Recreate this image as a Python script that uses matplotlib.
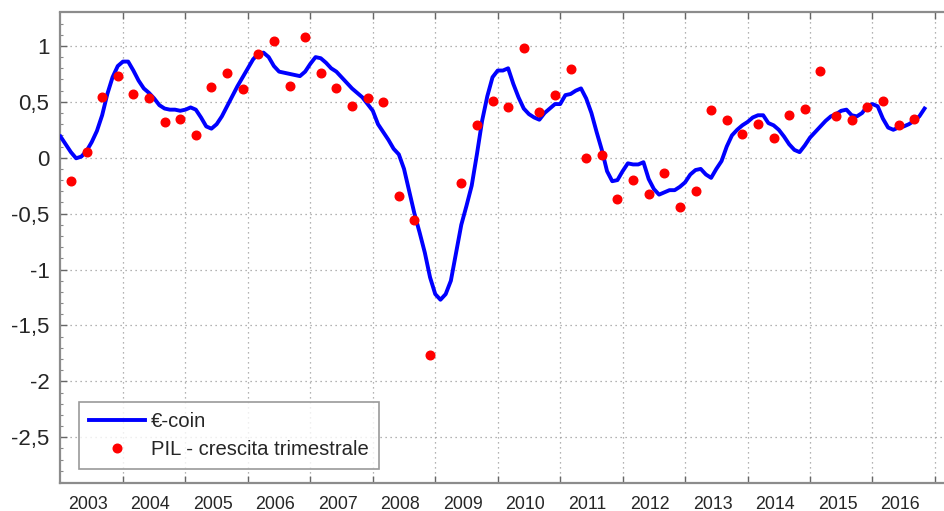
import numpy as np
import matplotlib
matplotlib.use("Agg")
import matplotlib.pyplot as plt
from matplotlib.ticker import FixedLocator, MultipleLocator, FuncFormatter, NullFormatter

plt.rcParams['font.family'] = ['Liberation Sans', 'DejaVu Sans']

# ---- data ----
start_year = 2003
# monthly €-coin values, Jan 2003 .. Nov 2016
ecoin = [
    0.19, 0.12, 0.05, -0.005, 0.01, 0.06, 0.14, 0.24, 0.38, 0.57, 0.72, 0.82,      # 2003
    0.86, 0.86, 0.78, 0.69, 0.62, 0.58, 0.53, 0.47, 0.44, 0.43, 0.43, 0.42,        # 2004
    0.43, 0.45, 0.43, 0.36, 0.28, 0.26, 0.30, 0.37, 0.46, 0.55, 0.64, 0.72,        # 2005
    0.80, 0.88, 0.93, 0.94, 0.90, 0.82, 0.77, 0.76, 0.75, 0.74, 0.73, 0.77,        # 2006
    0.84, 0.90, 0.89, 0.85, 0.80, 0.77, 0.72, 0.67, 0.62, 0.58, 0.54, 0.48,        # 2007
    0.42, 0.30, 0.23, 0.16, 0.08, 0.03, -0.10, -0.30, -0.50, -0.67, -0.85, -1.07,  # 2008
    -1.22, -1.27, -1.22, -1.10, -0.85, -0.60, -0.43, -0.25, 0.03, 0.33, 0.55, 0.72,  # 2009
    0.78, 0.78, 0.80, 0.66, 0.54, 0.44, 0.39, 0.36, 0.34, 0.40, 0.44, 0.48,        # 2010
    0.48, 0.56, 0.57, 0.60, 0.62, 0.53, 0.40, 0.23, 0.07, -0.12, -0.21, -0.20,     # 2011
    -0.12, -0.05, -0.06, -0.06, -0.04, -0.19, -0.28, -0.33, -0.31, -0.29, -0.29, -0.26,  # 2012
    -0.22, -0.15, -0.11, -0.10, -0.15, -0.18, -0.10, -0.03, 0.10, 0.20, 0.25, 0.29,  # 2013
    0.32, 0.36, 0.38, 0.38, 0.31, 0.29, 0.25, 0.19, 0.12, 0.07, 0.05, 0.11,        # 2014
    0.18, 0.23, 0.28, 0.33, 0.37, 0.39, 0.42, 0.43, 0.38, 0.37, 0.40, 0.46,        # 2015
    0.48, 0.46, 0.35, 0.27, 0.25, 0.27, 0.28, 0.30, 0.33, 0.37, 0.44,              # 2016
]
# quarterly GDP growth (PIL), 2003Q1 .. 2016Q3 (2009Q1 falls below the visible range)
pil = [
    -0.21, 0.05, 0.54, 0.73,
    0.57, 0.53, 0.32, 0.35,
    0.20, 0.63, 0.755, 0.615,
    0.925, 1.04, 0.645, 1.08,
    0.755, 0.625, 0.46, 0.535,
    0.50, -0.34, -0.56, -1.76,
    np.nan, -0.23, 0.29, 0.51,
    0.45, 0.98, 0.41, 0.56,
    0.79, 0.00, 0.02, -0.37,
    -0.20, -0.32, -0.14, -0.44,
    -0.30, 0.43, 0.34, 0.21,
    0.30, 0.18, 0.38, 0.44,
    0.78, 0.37, 0.34, 0.45,
    0.51, 0.29, 0.35,
]
year_labels = [str(y) for y in range(2003, 2017)]
ytick_vals = [-2.5, -2, -1.5, -1, -0.5, 0, 0.5, 1]

# time axes (fractional years); quarterly values sit on the last month of each quarter
t_month = start_year + np.arange(len(ecoin)) / 12.0
t_quarter = start_year + (np.arange(len(pil)) * 3 + 2) / 12.0

W, H = 944, 511
fig = plt.figure(figsize=(W / 100, H / 100), dpi=100)
ax_left = 60.5 / W
ax_bottom = (H - 483.3) / H
ax_top = (H - 12.5) / H
xmin, xmax = 2003.0, 2017.3
px_per_year = 62.46
ax_width = (xmax - xmin) * px_per_year / W
ax = fig.add_axes([ax_left, ax_bottom, ax_width, ax_top - ax_bottom])

ax.plot(t_month, ecoin, color='#0000ff', lw=2.8, label='€-coin', zorder=3)
ax.plot(t_quarter, pil, 'o', color='#ff0000', ms=6.2, mec='#ff0000', label='PIL - crescita trimestrale', zorder=4)

ax.set_xlim(xmin, xmax)
ax.set_ylim(-2.912, 1.299)

# x: major ticks at year starts (grid), labels at mid-year
years = np.arange(2004, 2018)
ax.xaxis.set_major_locator(FixedLocator(years))
ax.xaxis.set_major_formatter(NullFormatter())
ax.xaxis.set_minor_locator(FixedLocator(np.arange(2003, 2017) + 0.44))
ax.set_xticklabels(year_labels, minor=True)
ax.tick_params(axis='x', which='major', direction='in', length=5, width=1, color='#666666',
               top=True, bottom=True)
ax.tick_params(axis='x', which='minor', length=0, pad=9, labelsize=12.8, labelcolor='#262626')

# y
ax.yaxis.set_major_locator(FixedLocator(ytick_vals))
ax.yaxis.set_major_formatter(FuncFormatter(lambda v, p: ('%g' % v).replace('.', ',')))
ax.yaxis.set_minor_locator(MultipleLocator(0.1))
ax.tick_params(axis='y', which='major', direction='in', length=5, width=1, color='#666666',
               labelsize=16, labelcolor='#262626', pad=8)
ax.tick_params(axis='y', which='minor', direction='in', length=2.5, width=0.8, color='#888888')

ax.grid(True, which='major', linestyle=(0, (1, 3)), color='#9a9a9a', lw=0.9)

for s in ['left', 'bottom', 'top', 'right']:
    ax.spines[s].set_color('#8c8c8c')
    ax.spines[s].set_linewidth(1.6)

leg = ax.legend(loc='upper left', bbox_to_anchor=(79 / W, (H - 402) / H), bbox_transform=fig.transFigure,
                fontsize=14.6, frameon=True, fancybox=False, handlelength=2.75, handletextpad=0.3,
                borderpad=0.5, labelspacing=0.45, borderaxespad=0)
leg.get_frame().set_edgecolor('#808080')
leg.get_frame().set_linewidth(1.2)
for txt in leg.get_texts():
    txt.set_color('#262626')

fig.savefig('out.png', dpi=100)
